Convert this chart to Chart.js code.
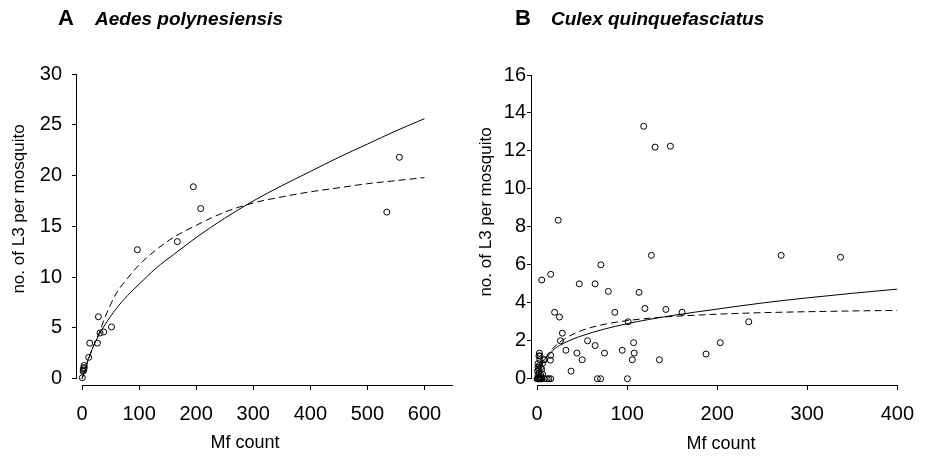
<!DOCTYPE html>
<html>
<head>
<meta charset="utf-8">
<script src="https://cdn.jsdelivr.net/npm/chart.js@4.4.0/dist/chart.umd.min.js"></script>
<style>
  html, body { margin: 0; padding: 0; background: #fff; }
  #wrap { position: relative; width: 926px; height: 457px; }
  .panel { position: absolute; top: 0; width: 463px; height: 457px; }
</style>
</head>
<body>
<div id="wrap">
  <div class="panel" style="left:0"><canvas id="chartA"></canvas></div>
  <div class="panel" style="left:463px"><canvas id="chartB"></canvas></div>
</div>
<script>
// panel A - Aedes polynesiensis
const aMfX = [0.5, 2, 2.5, 3, 3.5, 4, 11.7, 13.5, 27, 28.7, 31.6, 38, 51.6, 97, 167, 195, 208, 534, 556];
const aL3Y = [0.1, 0.75, 1.0, 0.85, 1.3, 1.1, 2.1, 3.5, 3.5, 6.1, 4.5, 4.6, 5.1, 12.7, 13.5, 18.9, 16.75, 16.4, 21.8];
const aFitX = [0, 5, 10, 20, 30, 40, 60, 80, 100, 130, 160, 200, 250, 300, 350, 400, 450, 500, 550, 600];
const aSolid = [0, 0.9, 1.8, 3.2, 4.35, 5.3, 6.9, 8.2, 9.3, 10.9, 12.2, 13.9, 15.8, 17.5, 19.0, 20.4, 21.8, 23.1, 24.4, 25.6];
const aDash = [0, 0.8, 1.65, 3.2, 4.5, 6.0, 8.4, 9.9, 11.2, 12.7, 13.9, 15.1, 16.4, 17.3, 17.9, 18.4, 18.8, 19.2, 19.5, 19.8];
const aXTicks = [0, 100, 200, 300, 400, 500, 600];
const aYTicks = [0, 5, 10, 15, 20, 25, 30];

// panel B - Culex quinquefasciatus
const bMfX = [118.3, 131, 148, 23.4, 126.9, 271, 337,
  5.1, 15.1, 46.8, 64.4, 70.8, 79.1, 113.2, 19.4, 24.8, 86.3, 119.7, 143, 161, 101.1, 235,
  28, 25.9, 56, 64.4, 107.1, 203.4, 32, 94.5, 44.2, 74.8, 107.8, 187.6, 50, 105.7, 135.8,
  37.7, 66.9, 70.5, 100.3, 15.1, 14.7, 7.2,
  11.1, 15.1, 13, 0, 0.5, 1, 1.5, 2, 3, 4, 5, 1, 2, 1.5, 2.5, 1, 3, 2, 2.5, 4, 5, 6, 8, 3.5, 3, 4, 6, 8.3, 0.5, 1];
const bL3Y = [13.3, 12.2, 12.25, 8.35, 6.5, 6.5, 6.4,
  5.2, 5.5, 5.0, 5.0, 6.0, 4.6, 4.55, 3.5, 3.25, 3.5, 3.7, 3.65, 3.5, 3.0, 3.0,
  2.4, 2.0, 2.0, 1.75, 1.9, 1.9, 1.5, 1.5, 1.35, 1.35, 1.35, 1.3, 1.0, 1.0, 1.0,
  0.4, 0, 0, 0, 1.23, 0.98, 1.0,
  0, 0, 0, 0, 0, 0, 0, 0, 0, 0, 0, 0.2, 0.3, 0.5, 0.7, 0.8, 1.0, 1.2, 1.35, 0.2, 0.5, 0.25, 0, 0.1, 1.2, 0.6, 0.8, 1.0, 0.4, 0.6];
const bFitX = [0, 2, 5, 10, 20, 30, 50, 75, 100, 125, 150, 200, 250, 300, 350, 400];
const bSolid = [0, 0.45, 0.8, 1.1, 1.6, 1.88, 2.27, 2.62, 2.9, 3.13, 3.33, 3.67, 3.99, 4.26, 4.5, 4.72];
const bDash = [0, 0.3, 0.7, 1.15, 1.72, 2.09, 2.55, 2.87, 3.06, 3.19, 3.28, 3.4, 3.48, 3.53, 3.57, 3.6];
const bXTicks = [0, 100, 200, 300, 400];
const bYTicks = [0, 2, 4, 6, 8, 10, 12, 14, 16];

const FONT = "'Liberation Sans', Arial, Helvetica, sans-serif";

function toXY(xs, ys) {
  return xs.map((x, i) => ({ x: x, y: ys[i] }));
}

// detached axis lines + headings and axis titles
const decor = {
  id: 'decor',
  afterDraw(chart, args, o) {
    const ctx = chart.ctx;
    const xs = chart.scales.x, ys = chart.scales.y;
    const area = chart.chartArea;
    ctx.save();
    ctx.strokeStyle = '#000';
    ctx.lineWidth = 1;
    ctx.beginPath();
    const yb = Math.round(area.bottom) + 0.5;
    ctx.moveTo(xs.getPixelForValue(o.xFrom), yb);
    ctx.lineTo(xs.getPixelForValue(o.xTo), yb);
    const xl = Math.round(area.left) - 0.5;
    ctx.moveTo(xl, ys.getPixelForValue(o.yFrom));
    ctx.lineTo(xl, ys.getPixelForValue(o.yTo));
    ctx.stroke();

    ctx.fillStyle = '#000';
    ctx.textBaseline = 'alphabetic';
    ctx.textAlign = 'left';
    ctx.font = 'bold 22px ' + FONT;
    ctx.fillText(o.letter, o.letterX, o.headY);
    ctx.font = 'italic bold 19px ' + FONT;
    ctx.fillText(o.species, o.speciesX, o.headY);

    ctx.font = '18px ' + FONT;
    ctx.textAlign = 'center';
    ctx.fillText('Mf count', o.xTitleX, o.xTitleY);
    ctx.font = '17px ' + FONT;
    ctx.translate(o.yTitleX, o.yTitleY);
    ctx.rotate(-Math.PI / 2);
    ctx.textBaseline = 'middle';
    ctx.fillText('no. of L3 per mosquito', 0, 0);
    ctx.restore();
  }
};

function makeChart(id, cfg) {
  const tickFont = { family: FONT, size: 20 };
  return new Chart(document.getElementById(id), {
    type: 'scatter',
    data: {
      datasets: [
        {
          data: toXY(cfg.px, cfg.py),
          showLine: false,
          pointRadius: 3,
          pointBorderWidth: 1,
          pointBorderColor: '#000',
          pointBackgroundColor: 'rgba(0,0,0,0)'
        },
        {
          data: toXY(cfg.fx, cfg.solid),
          showLine: true,
          borderColor: '#000',
          borderWidth: 1,
          pointRadius: 0,
          cubicInterpolationMode: 'monotone'
        },
        {
          data: toXY(cfg.fx, cfg.dash),
          showLine: true,
          borderColor: '#000',
          borderWidth: 1,
          borderDash: [7, 4],
          pointRadius: 0,
          cubicInterpolationMode: 'monotone'
        }
      ]
    },
    options: {
      responsive: true,
      maintainAspectRatio: false,
      animation: false,
      layout: { padding: { left: 0, top: cfg.top, right: cfg.right, bottom: 0 } },
      plugins: {
        legend: { display: false },
        tooltip: { enabled: false },
        decor: cfg.decor
      },
      scales: {
        x: {
          type: 'linear',
          min: cfg.xMin,
          max: cfg.xMax,
          border: { display: false },
          grid: { drawOnChartArea: false, drawTicks: true, tickLength: 5, color: '#000', lineWidth: 1 },
          ticks: { font: tickFont, color: '#000', padding: cfg.xPad, autoSkip: false, maxRotation: 0 },
          afterBuildTicks: s => { s.ticks = cfg.xTicks.map(v => ({ value: v })); },
          afterFit: s => { s.height = 457 - cfg.bottom; }
        },
        y: {
          type: 'linear',
          min: cfg.yMin,
          max: cfg.yMax,
          border: { display: false },
          grid: { drawOnChartArea: false, drawTicks: true, tickLength: 5, color: '#000', lineWidth: 1 },
          ticks: { font: tickFont, color: '#000', padding: cfg.yPad, autoSkip: false },
          afterBuildTicks: s => { s.ticks = cfg.yTicks.map(v => ({ value: v })); },
          afterFit: s => { s.width = cfg.left; }
        }
      }
    },
    plugins: [decor]
  });
}

makeChart('chartA', {
  px: aMfX, py: aL3Y, fx: aFitX, solid: aSolid, dash: aDash,
  xTicks: aXTicks, yTicks: aYTicks,
  xMin: -8.8, xMax: 650, yMin: -0.62, yMax: 30,
  left: 77, top: 74, right: 10, bottom: 385,
  xPad: 12, yPad: 10,
  decor: {
    xFrom: 0, xTo: 650, yFrom: 0, yTo: 30,
    letter: 'A', letterX: 58, species: 'Aedes polynesiensis', speciesX: 95, headY: 25,
    xTitleX: 245, xTitleY: 448, yTitleX: 19, yTitleY: 209
  }
});

makeChart('chartB', {
  px: bMfX, py: bL3Y, fx: bFitX, solid: bSolid, dash: bDash,
  xTicks: bXTicks, yTicks: bYTicks,
  xMin: -5.7, xMax: 400, yMin: -0.33, yMax: 16,
  left: 69, top: 75, right: 18, bottom: 385,
  xPad: 12, yPad: 1,
  decor: {
    xFrom: 0, xTo: 400, yFrom: 0, yTo: 16,
    letter: 'B', letterX: 52, species: 'Culex quinquefasciatus', speciesX: 88, headY: 25,
    xTitleX: 258, xTitleY: 449, yTitleX: 23, yTitleY: 212
  }
});
</script>
</body>
</html>
